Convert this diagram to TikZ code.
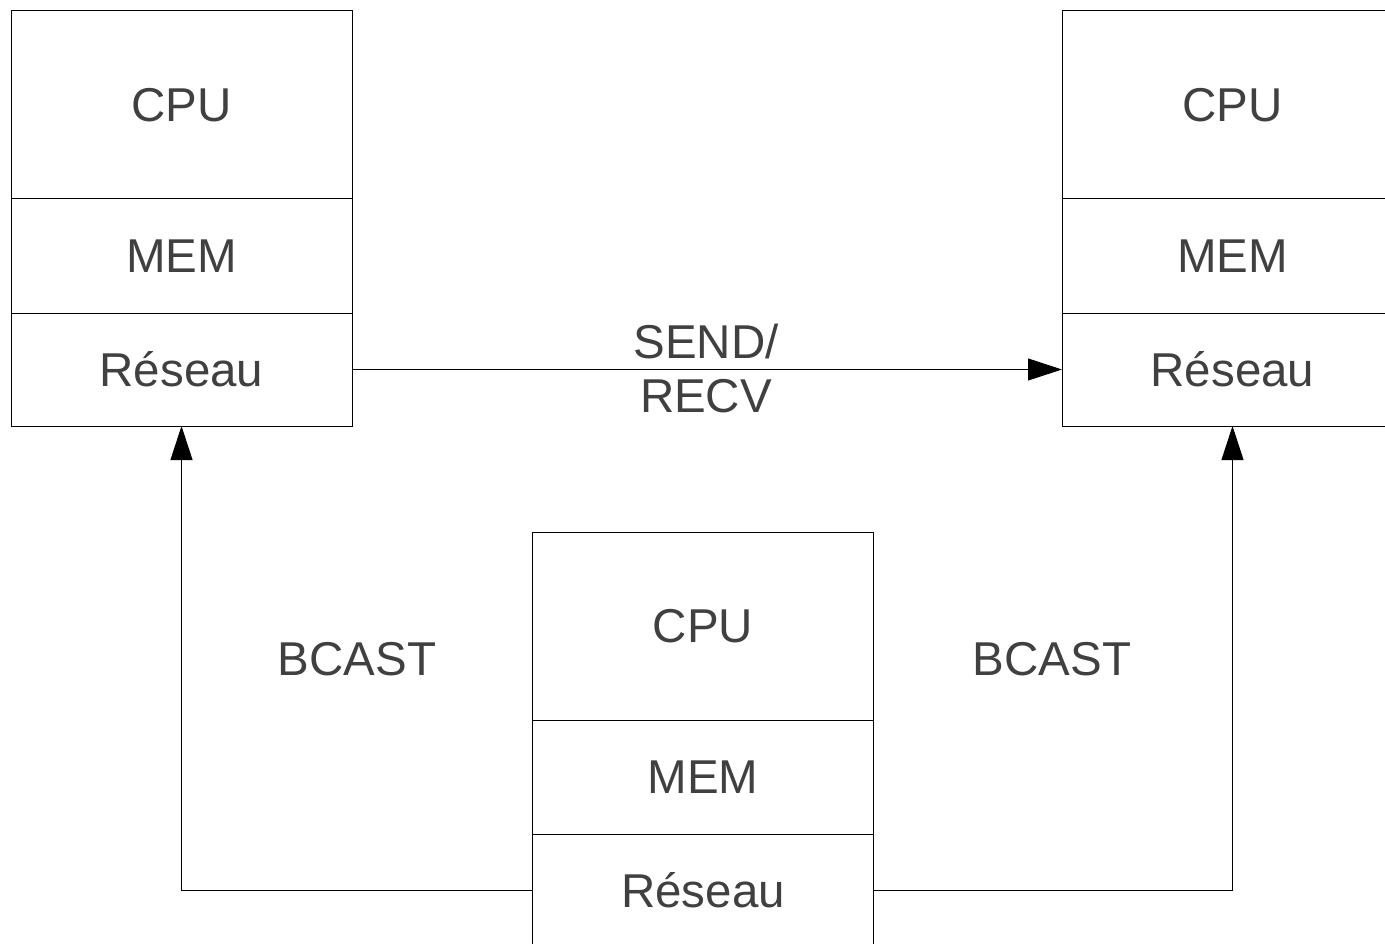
\documentclass[tikz,border=0pt]{standalone}
\usepackage{fontspec}
\setmainfont{Liberation Sans}
\usetikzlibrary{arrows.meta}

\definecolor{labelgray}{HTML}{404040}

\tikzset{
	part/.style={rectangle, draw=black, line width=1pt, inner sep=0pt, outer sep=0pt,
		minimum width=341pt, text=labelgray, font=\fontsize{47.5}{54}\selectfont},
	cpuPart/.style={part, minimum height=188pt},
	memPart/.style={part, minimum height=114pt},
	netPart/.style={part, minimum height=113pt},
	msg/.style={line width=1pt, -{Triangle[length=34pt, width=22pt]}},
	msgLabel/.style={text=labelgray, align=center, font=\fontsize{47.5}{54}\selectfont}
}

\begin{document}
\begin{tikzpicture}[x=1pt, y=-1pt]
		
		\useasboundingbox (0,0) rectangle (1385,944);
		\clip (0,0) rectangle (1385,944);
		
		%Left machine
		\node (leftCpu) at (181.5,105) [cpuPart] {CPU};
		\node (leftMem) at (181.5,256) [memPart] {MEM};
		\node (leftNet) at (181.5,369.5) [netPart] {Réseau};
		
		%Right machine
		\node (rightCpu) at (1232.5,105) [cpuPart] {CPU};
		\node (rightMem) at (1232.5,256) [memPart] {MEM};
		\node (rightNet) at (1232.5,369.5) [netPart] {Réseau};
		
		%Bottom machine
		\node (bottomCpu) at (703,626) [cpuPart] {CPU};
		\node (bottomMem) at (703,777) [memPart] {MEM};
		\node (bottomNet) at (703,890.5) [netPart] {Réseau};
		
		%Point to point
		\draw[msg] (leftNet.east) -- (rightNet.west);
		\node (sendRecv) at (706,369) [msgLabel] {SEND/\\RECV};
		
		%Broadcast
		\draw[msg] (bottomNet.west) -| (leftNet.south);
		\draw[msg] (bottomNet.east) -| (rightNet.south);
		\node (leftCast) at (357,659) [msgLabel] {BCAST};
		\node (rightCast) at (1052,659) [msgLabel] {BCAST};
		
		\end{tikzpicture}
\end{document}
